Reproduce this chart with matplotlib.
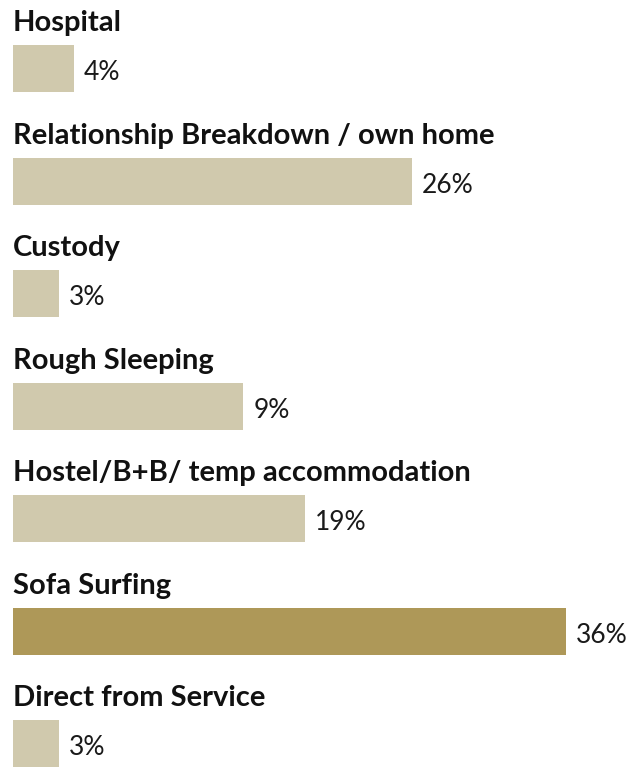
import matplotlib.pyplot as plt

categories = ["Hospital", "Relationship Breakdown / own home", "Custody",
              "Rough Sleeping", "Hostel/B+B/ temp accommodation",
              "Sofa Surfing", "Direct from Service"]
bar_values = [4, 26, 3, 15, 19, 36, 3]   # bar lengths as drawn
value_labels = ["4%", "26%", "3%", "9%", "19%", "36%", "3%"]
highlight = "Sofa Surfing"

W, H = 641, 771
fig = plt.figure(figsize=(W / 100, H / 100), dpi=100)
ax = fig.add_axes([13 / W, 0, 553 / W, 1])

pos = list(range(len(categories)))
colors = ["#AE9858" if c == highlight else "#D0C9AD" for c in categories]
ax.barh(pos, bar_values, height=0.418, color=colors)

for i, (c, v, lab) in enumerate(zip(categories, bar_values, value_labels)):
    ax.text(0, i - 0.33, c, fontsize=21, fontfamily="Lato", fontweight="bold",
            va="baseline", ha="left", color="#111111")
    ax.annotate(lab, (v, i), xytext=(7, -3), textcoords="offset points",
                fontsize=19, fontfamily="Lato", fontweight="normal",
                va="center", ha="left", color="#1a1a1a")

ax.set_xlim(0, 36)
ax.set_ylim(6.244, -0.609)
ax.axis("off")

fig.savefig("out.png", dpi=100)
